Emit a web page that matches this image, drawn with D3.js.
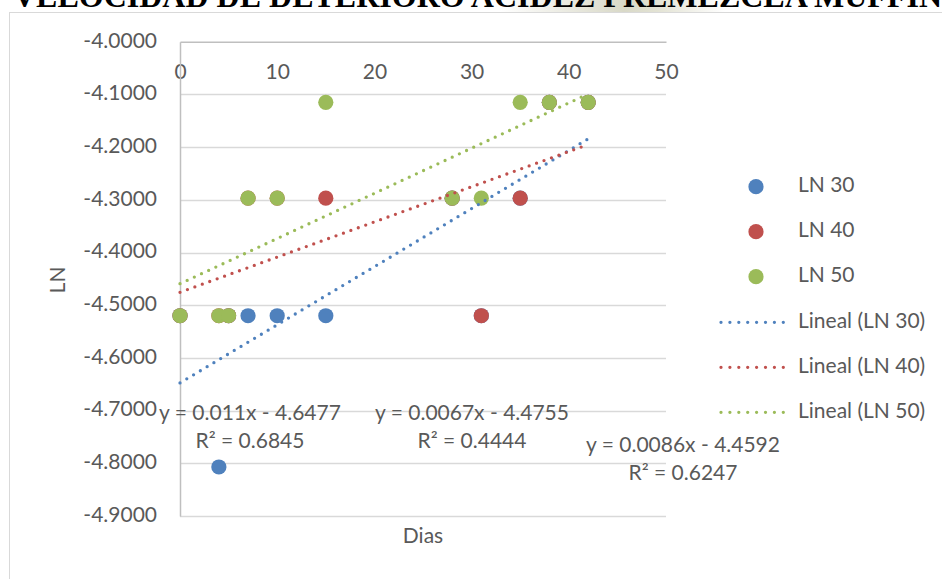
<!DOCTYPE html>
<html><head><meta charset="utf-8">
<script src="https://cdn.jsdelivr.net/npm/d3@7"></script>
<style>html,body{margin:0;padding:0;background:#fff;overflow:hidden}</style>
</head><body>
<svg id="c" width="942" height="579"></svg>
<script>
const titleText = "VELOCIDAD DE DETERIORO ACIDEZ PREMEZCLA MUFFIN";
const dias = [0, 4, 5, 7, 10, 15, 28, 31, 35, 38, 42];
const ln30 = [-4.520, -4.807, -4.520, -4.520, -4.520, -4.520, -4.297, -4.520, -4.297, -4.115, -4.115];
const ln40 = [-4.520, -4.520, -4.520, -4.297, -4.297, -4.297, -4.297, -4.520, -4.297, -4.115, -4.115];
const ln50 = [-4.520, -4.520, -4.520, -4.297, -4.297, -4.115, -4.297, -4.297, -4.115, -4.115, -4.115];
const seriesNames = ["LN 30", "LN 40", "LN 50"];
const trendNames = ["Lineal (LN 30)", "Lineal (LN 40)", "Lineal (LN 50)"];
const eqLabels = ["y = 0.011x - 4.6477", "y = 0.0067x - 4.4755", "y = 0.0086x - 4.4592"];
const r2Labels = ["R² = 0.6845", "R² = 0.4444", "R² = 0.6247"];
const xTicks = [0, 10, 20, 30, 40, 50];
const yTicks = [-4.0, -4.1, -4.2, -4.3, -4.4, -4.5, -4.6, -4.7, -4.8, -4.9];
const colors = ["#4F81BD", "#C0504D", "#9BBB59"];

const svg = d3.select("#c");
const FONT = "Lato, 'Open Sans', sans-serif";
const TXT = "#595959";
const fmt = d3.formatLocale({decimal: ".", thousands: ",", grouping: [3], currency: ["", ""], minus: "-"}).format(".4f");

// watermark behind title
const defs = svg.append("defs");
const g1 = defs.append("linearGradient").attr("id", "wm").attr("x1", 0).attr("x2", 1).attr("y1", 0).attr("y2", 0);
g1.append("stop").attr("offset", "0%").attr("stop-color", "#ffffff");
g1.append("stop").attr("offset", "55%").attr("stop-color", "#d9d9c8");
g1.append("stop").attr("offset", "70%").attr("stop-color", "#e3e3d4");
g1.append("stop").attr("offset", "100%").attr("stop-color", "#ffffff");
svg.append("rect").attr("x", 500).attr("y", 0).attr("width", 225).attr("height", 13).attr("fill", "url(#wm)");

svg.append("text").attr("x", 13).attr("y", 7)
  .attr("font-family", "'Liberation Serif', 'Times New Roman', serif")
  .attr("font-weight", "bold").attr("font-size", 32).attr("fill", "#000")
  .text(titleText);

// chart frame
svg.append("rect").attr("x", 9.5).attr("y", 12.5).attr("width", 960).attr("height", 600)
  .attr("fill", "#fff").attr("stroke", "#d9d9d9").attr("stroke-width", 1);

const x = d3.scaleLinear().domain([0, 50]).range([180, 666]);
const y = d3.scaleLinear().domain([-4.9, -4.0]).range([516, 41.7]);

// gridlines
svg.append("g").selectAll("line").data(yTicks.filter(d => d !== -4.0)).join("line")
  .attr("x1", x(0)).attr("x2", x(50))
  .attr("y1", d => Math.round(y(d)) + 0.5).attr("y2", d => Math.round(y(d)) + 0.5)
  .attr("stroke", "#d9d9d9").attr("stroke-width", 1.3);

// axes (x axis crosses at top, -4.0)
const xAxis = d3.axisBottom(x).tickValues(xTicks).tickSize(0).tickPadding(0).tickFormat(d3.format("d"));
const gx = svg.append("g").attr("transform", `translate(0,${y(-4.0)})`).call(xAxis);
gx.select(".domain").attr("stroke", "#bfbfbf").attr("stroke-width", 1.5);
gx.selectAll("text").attr("font-family", FONT).attr("font-size", 21).attr("fill", TXT)
  .attr("dy", null).attr("y", 32).attr("dominant-baseline", "middle");

const yAxis = d3.axisLeft(y).tickValues(yTicks).tickSize(0).tickPadding(23).tickFormat(fmt);
const gy = svg.append("g").attr("transform", `translate(${x(0)},0)`).call(yAxis);
gy.select(".domain").attr("stroke", "#bfbfbf").attr("stroke-width", 1.5);
gy.selectAll("text").attr("font-family", FONT).attr("font-size", 21).attr("fill", TXT)
  .attr("dy", null).attr("dominant-baseline", "middle");

// axis titles
svg.append("text").attr("transform", "translate(60,280) rotate(-90)")
  .attr("text-anchor", "middle").attr("dominant-baseline", "middle")
  .attr("font-family", FONT).attr("font-size", 21).attr("fill", TXT).text("LN");
svg.append("text").attr("x", 423).attr("y", 538)
  .attr("text-anchor", "middle").attr("dominant-baseline", "middle")
  .attr("font-family", FONT).attr("font-size", 21).attr("fill", TXT).text("Dias");

const allSeries = [ln30, ln40, ln50];

// markers
allSeries.forEach((s, i) => {
  svg.append("g").selectAll("circle").data(dias.map((d, j) => [d, s[j]])).join("circle")
    .attr("cx", d => x(d[0])).attr("cy", d => y(d[1])).attr("r", 7.6)
    .attr("fill", colors[i]);
});

// linear trendlines (least squares)
function fit(xs, ys) {
  const mx = d3.mean(xs), my = d3.mean(ys);
  let sxy = 0, sxx = 0;
  xs.forEach((v, k) => { sxy += (v - mx) * (ys[k] - my); sxx += (v - mx) * (v - mx); });
  const m = sxy / sxx;
  return [m, my - m * mx];
}
allSeries.forEach((s, i) => {
  const [m, b] = fit(dias, s);
  const x0 = d3.min(dias), x1 = d3.max(dias);
  svg.append("line")
    .attr("x1", x(x0)).attr("y1", y(m * x0 + b)).attr("x2", x(x1)).attr("y2", y(m * x1 + b))
    .attr("stroke", colors[i]).attr("stroke-width", 3.3)
    .attr("stroke-linecap", "round").attr("stroke-dasharray", "0 7.9");
});

// equation labels
const eqPos = [[250, 415, 443], [472, 415, 443], [683, 447, 475]];
eqLabels.forEach((t, i) => {
  svg.append("text").attr("x", eqPos[i][0]).attr("y", eqPos[i][1])
    .attr("text-anchor", "middle").attr("dominant-baseline", "middle")
    .attr("font-family", FONT).attr("font-size", 21).attr("fill", TXT).text(t);
  svg.append("text").attr("x", eqPos[i][0]).attr("y", eqPos[i][2])
    .attr("text-anchor", "middle").attr("dominant-baseline", "middle")
    .attr("font-family", FONT).attr("font-size", 21).attr("fill", TXT).text(r2Labels[i]);
});

// legend
const lg = svg.append("g");
seriesNames.forEach((n, i) => {
  const yy = 186.7 + i * 45;
  lg.append("circle").attr("cx", 756).attr("cy", yy).attr("r", 7.6).attr("fill", colors[i]);
  lg.append("text").attr("x", 798).attr("y", yy).attr("dominant-baseline", "middle")
    .attr("font-family", FONT).attr("font-size", 21).attr("fill", TXT).text(n);
});
trendNames.forEach((n, i) => {
  const yy = 322.3 + i * 45;
  lg.append("line").attr("x1", 721).attr("x2", 784).attr("y1", yy).attr("y2", yy)
    .attr("stroke", colors[i]).attr("stroke-width", 3.3)
    .attr("stroke-linecap", "round").attr("stroke-dasharray", "0 8.9");
  lg.append("text").attr("x", 798).attr("y", yy).attr("dominant-baseline", "middle")
    .attr("font-family", FONT).attr("font-size", 21).attr("fill", TXT).text(n);
});
</script>
</body></html>
